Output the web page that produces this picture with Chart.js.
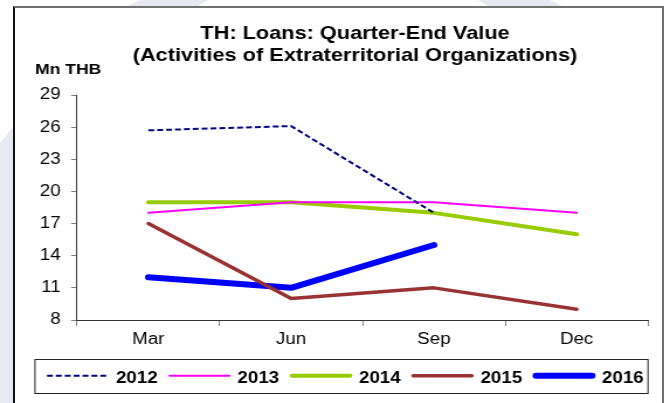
<!DOCTYPE html>
<html>
<head>
<meta charset="utf-8">
<script src="https://cdn.jsdelivr.net/npm/chart.js@4.4.1/dist/chart.umd.min.js"></script>
<style>
html, body { margin: 0; padding: 0; background: #fff; }
#page { position: relative; width: 670px; height: 403px; overflow: hidden; background: #fff; }
.wm { position: absolute; background: #e8e8f2; }
#strip { left: 0; top: 0; width: 13px; height: 403px; clip-path: polygon(0 143px, 13px 127px, 13px 403px, 0 403px); }
#wm1 { left: 128px; top: 0; width: 80px; height: 6px; clip-path: polygon(12px 0, 80px 0, 70px 6px, 0 6px); }
#wm2 { left: 478px; top: 0; width: 84px; height: 6px; clip-path: polygon(0 0, 72px 0, 84px 6px, 10px 6px); }
#frame { position: absolute; left: 13px; top: 6px; width: 647px; height: 420px; border: 2px solid #707070; border-left-color: #111; }
/* the chart is laid out on a narrower canvas and widened to 670px */
#wrap { position: absolute; left: 0; top: 0; width: 573px; height: 403px; transform: scaleX(1.16928); transform-origin: 0 0; }
</style>
</head>
<body>
<div id="page">
  <div class="wm" id="strip"></div>
  <div class="wm" id="wm1"></div>
  <div class="wm" id="wm2"></div>
  <div id="frame"></div>
  <div id="wrap"><canvas id="chart" width="573" height="403" style="width:573px;height:403px"></canvas></div>
</div>
<script>
var quarters = ['Mar', 'Jun', 'Sep', 'Dec'];
var years = ['2012', '2013', '2014', '2015', '2016'];
var loans2012 = [25.7, 26.1, 18, null];
var loans2013 = [18, 19, 19, 18];
var loans2014 = [19, 19, 18, 16];
var loans2015 = [17, 10, 11, 9];
var loans2016 = [12, 11, 15, null];
var yMin = 8, yMax = 29, yStep = 3;
var titleLines = ['TH: Loans: Quarter-End Value', '(Activities of Extraterritorial Organizations)'];
var unitLabel = 'Mn THB';

var lineColors = ['#000080', '#ff00ff', '#99cc00', '#993333', '#0000ff'];
var lineWidths = [2, 2, 4, 3.5, 6];
var lineDashes = [[5, 2.6], [], [], [], []];
var capStyles = ['butt', 'round', 'round', 'round', 'round'];

var S = 670 / 573; // horizontal widening of the canvas
var FONT = '"Liberation Sans", Arial, sans-serif';
Chart.defaults.font.family = FONT;
Chart.defaults.color = '#000';

var series = [loans2012, loans2013, loans2014, loans2015, loans2016];
var datasets = [];
for (var i = 0; i < series.length; i++) {
  datasets.push({
    label: years[i],
    data: series[i],
    borderColor: lineColors[i],
    backgroundColor: lineColors[i],
    borderWidth: lineWidths[i],
    borderDash: lineDashes[i],
    borderCapStyle: capStyles[i],
    borderJoinStyle: 'round',
    pointRadius: 0,
    tension: 0,
    fill: false
  });
}

// title, unit label and the boxed legend
var decor = {
  id: 'decor',
  afterDraw: function(chart) {
    var ctx = chart.ctx;
    ctx.save();
    ctx.fillStyle = '#000';
    ctx.textBaseline = 'alphabetic';
    ctx.textAlign = 'center';
    ctx.font = 'bold 18.6px ' + FONT;
    ctx.fillText(titleLines[0], 355 / S, 38.5);
    ctx.fillText(titleLines[1], 355 / S, 61);
    ctx.textAlign = 'left';
    ctx.font = 'bold 15px ' + FONT;
    ctx.fillText(unitLabel, 35 / S, 73.5);

    ctx.strokeStyle = '#222';
    ctx.lineWidth = 1;
    ctx.strokeRect(35 / S, 359.5, 613 / S, 34);

    var y = 375.7;
    chart.data.datasets.forEach(function(ds, k) {
      var x0 = (47 + 121.5 * k) / S;
      var x1 = (47 + 121.5 * k + 62) / S;
      var cap = ds.borderCapStyle === 'round' ? ds.borderWidth / 2 : 0;
      ctx.beginPath();
      ctx.setLineDash(ds.borderDash);
      ctx.lineCap = ds.borderCapStyle;
      ctx.lineWidth = ds.borderWidth;
      ctx.strokeStyle = ds.borderColor;
      ctx.moveTo(x0 + cap / S, y);
      ctx.lineTo(x1 - cap / S, y);
      ctx.stroke();
      ctx.setLineDash([]);
      ctx.fillStyle = '#000';
      ctx.font = 'bold 16px ' + FONT;
      ctx.fillText(ds.label, (47 + 121.5 * k + 69) / S, 382.5);
    });
    ctx.restore();
  }
};

new Chart(document.getElementById('chart'), {
  type: 'line',
  data: { labels: quarters, datasets: datasets },
  options: {
    responsive: false,
    animation: false,
    devicePixelRatio: 1,
    layout: { padding: { left: 0, right: 573 - 648 / S, top: 95, bottom: 53 } },
    plugins: { legend: { display: false }, tooltip: { enabled: false } },
    scales: {
      x: {
        offset: true,
        grid: { offset: true, drawOnChartArea: false, tickLength: 6, color: '#808080' },
        border: { color: '#333', width: 1 },
        ticks: { font: { size: 16 }, padding: 4, color: '#000' },
        afterFit: function(s) { s.height = 30; }
      },
      y: {
        min: yMin,
        max: yMax,
        grid: { drawOnChartArea: false, tickLength: 5, color: '#808080' },
        border: { color: '#333', width: 1 },
        ticks: { stepSize: yStep, font: { size: 16 }, padding: 9, color: '#000' },
        afterFit: function(s) { s.width = 77 / S; }
      }
    }
  },
  plugins: [decor]
});
</script>
</body>
</html>
